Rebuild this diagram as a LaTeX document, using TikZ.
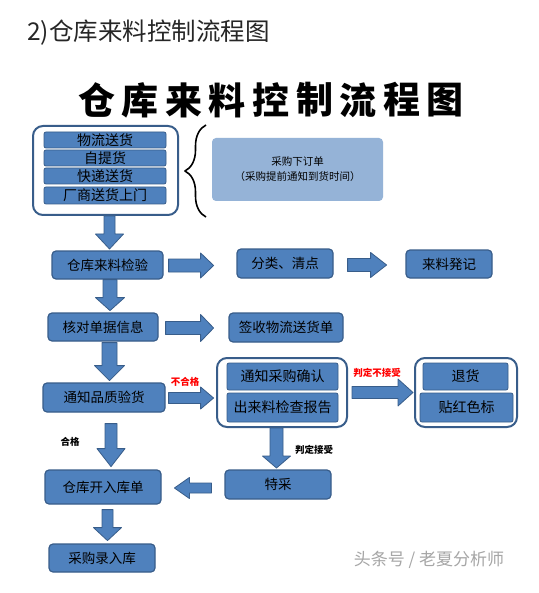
\documentclass[tikz,border=0pt]{standalone}
\usepackage{fontspec}
\setmainfont{Noto Sans CJK SC}
\usetikzlibrary{calc,decorations.pathreplacing}

\definecolor{boxblue}{HTML}{4F81BD}
\definecolor{boxline}{HTML}{385D8A}
\definecolor{paleblue}{HTML}{95B3D7}
\definecolor{markred}{HTML}{FF0000}
\definecolor{wmgray}{HTML}{A6A6A6}

% block arrow: angle, start, length, shaft half, head half, head length
\newcommand{\blockarrow}[6]{%
  \draw[blockarr, shift={(#2)}, rotate=#1]
    (0,-#4) -- ({#3-#6},-#4) -- ({#3-#6},-#5) -- (#3,0)
    -- ({#3-#6},#5) -- ({#3-#6},#4) -- (0,#4) -- cycle;}

\begin{document}
\begin{tikzpicture}[
    x=1pt, y=-1pt,
    line join=round,
    wh/.style 2 args={minimum width=#1pt, minimum height=#2pt},
    box/.style={draw=boxline, fill=boxblue, line width=1.2pt,
      rounded corners=4pt, inner sep=0pt, font=\fontsize{13.5}{14}\selectfont},
    bar/.style={box, rounded corners=2pt, line width=0.8pt,
      font=\fontsize{14}{15}\selectfont},
    grp/.style={draw=boxline, fill=white, line width=2pt,
      rounded corners=10pt, inner sep=0pt},
    order/.style={fill=paleblue, rounded corners=4pt, inner sep=0pt,
      align=center, font=\fontsize{10.5}{15}\selectfont},
    blockarr/.style={fill=boxblue, draw=boxline, line width=0.8pt},
    redtag/.style={text=markred, inner sep=0pt, font=\fontsize{9.5}{10}\bfseries},
    tag/.style={inner sep=0pt, font=\fontsize{9.5}{10}\bfseries},
    titlechar/.style={inner sep=0pt, font=\fontsize{37}{38}\bfseries}
  ]

  \useasboundingbox (0,0) rectangle (538,593);
  \fill[white] (0,0) rectangle (538,593);

  % ---------- Headings ----------
  \node[anchor=west, inner sep=0pt, text=black!85, font=\fontsize{24.5}{26}\selectfont]
    (head) at (27,33) {2)仓库来料控制流程图};
  \foreach \ch [count=\i] in {仓,库,来,料,控,制,流,程,图}
    \node[titlechar] (t\i) at ({96.5+(\i-1)*43.6},100) {\ch};

  % ---------- Delivery ways ----------
  \node[grp, wh={145}{89}] (grp1) at (105.5,170.5) {};
  \node[bar, wh={122}{16}] (wl) at (105,140) {物流送货};
  \node[bar, wh={122}{16}] (zt) at (105,158) {自提货};
  \node[bar, wh={122}{16}] (kd) at (105,176) {快递送货};
  \node[bar, wh={122}{17}] (cs) at (105,195.5) {厂商送货上门};

  \draw[decorate, decoration={brace, amplitude=21pt}, line width=1.6pt]
    (206,217) -- (206,125);
  \node[order, wh={171}{63}] (order) at (297.5,169.5)
    {采购下订单\\（采购提前通知到货时间）};

  % ---------- Main flow ----------
  \node[box, wh={111}{28}] (check) at (107.5,265) {仓库来料检验};
  \node[box, wh={96}{29}] (sort) at (285,263.5) {分类、清点};
  \node[box, wh={86}{28}] (reg) at (449,264) {来料発记};
  \node[box, wh={110}{28}] (verify) at (103,327) {核对单据信息};
  \node[box, wh={114}{29}] (sign) at (286,327.5) {签收物流送货单};
  \node[box, wh={122}{29}] (qc) at (104,397.5) {通知品质验货};

  \node[grp, wh={130}{69}] (grp2) at (282,392.5) {};
  \node[bar, wh={111}{27}] (notify) at (282.5,376.5) {通知采购确认};
  \node[bar, wh={111}{29}] (report) at (282.5,407.5) {出来料检查报告};

  \node[grp, wh={102}{69}] (grp3) at (466,392.5) {};
  \node[bar, wh={85}{27}] (back) at (465.5,376.5) {退货};
  \node[bar, wh={93}{29}] (redlbl) at (466.5,407.5) {贴红色标};

  \node[box, wh={116}{34}] (stock) at (103,487) {仓库开入库单};
  \node[box, wh={106}{29}] (special) at (278,484.5) {特采};
  \node[box, wh={106}{28}] (entry) at (102,558) {采购录入库};

  % ---------- Block arrows ----------
  \coordinate (s1) at ($(grp1.south)+(4,0)$);
  \coordinate (s2) at ($(check.east)+(5,0.5)$);
  \coordinate (s3) at ($(sort.east)+(14,1.5)$);
  \coordinate (s4) at ($(check.south)+(2.5,0)$);
  \coordinate (s5) at ($(verify.east)+(7,1)$);
  \coordinate (s6) at ($(verify.south)+(6.5,1)$);
  \coordinate (s7) at ($(qc.east)+(3,0.5)$);
  \coordinate (s8) at ($(grp2.east)+(4,0)$);
  \coordinate (s9) at ($(qc.south)+(7,11)$);
  \coordinate (s10) at ($(grp2.south)+(-5.5,0)$);
  \coordinate (s11) at ($(special.west)+(-13,3.5)$);
  \coordinate (s12) at ($(stock.south)+(4.5,5)$);

  \blockarrow{-90}{s1}{33}{5.5}{14}{15}
  \blockarrow{0}{s2}{45}{6.5}{12.5}{13}
  \blockarrow{0}{s3}{39}{6.5}{12.5}{16}
  \blockarrow{-90}{s4}{31}{7}{14.5}{13}
  \blockarrow{0}{s5}{48}{6.5}{13.5}{13}
  \blockarrow{-90}{s6}{38}{7.5}{15}{15}
  \blockarrow{0}{s7}{45}{5.5}{11}{13}
  \blockarrow{0}{s8}{61}{6}{13.5}{15}
  \blockarrow{-90}{s9}{43}{6}{14}{18}
  \blockarrow{-90}{s10}{40}{6.5}{14}{12}
  \blockarrow{180}{s11}{37}{5}{10.5}{15}
  \blockarrow{-90}{s12}{31}{5.5}{14}{13}

  % ---------- Labels ----------
  \node[redtag] (ng) at (185,382) {不合格};
  \node[redtag] (reject) at (377,373) {判定不接受};
  \node[tag] (ok) at (70,442) {合格};
  \node[tag] (accept) at (314,450) {判定接受};

  \node[text=wmgray, inner sep=0pt, font=\fontsize{17}{18}\selectfont]
    (wm) at (429,560) {头条号 / 老夏分析师};

\end{tikzpicture}
\end{document}
